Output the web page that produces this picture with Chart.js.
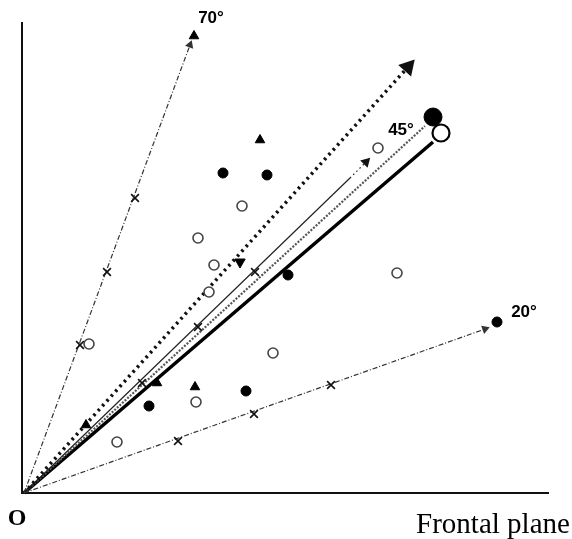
<!DOCTYPE html>
<html>
<head>
<meta charset="utf-8">
<script src="https://cdn.jsdelivr.net/npm/chart.js@4"></script>
<style>
  html, body { margin: 0; padding: 0; background: #fff; }
  #wrap { width: 572px; height: 539px; }
</style>
</head>
<body>
<div id="wrap"><canvas id="chart" width="572" height="539"></canvas></div>
<script>
// Rays from the origin O (origin at lower left)
const rayLabels = ['70°', '20°', 'dotted', 'thin', 'textured', 'thick'];
const rayEndX = [166, 461, 384, 326, 401, 409];
const rayEndY = [448, 164, 426, 315, 367, 351];

// short dotted tail after the thin ray
const tailX = [326, 342];
const tailY = [315, 331];

// axes
const axisX = [-2, -2, 525];
const axisY = [471, 0, 0];

// markers
const filledX = [199, 243, 264, 125, 222, 473];
const filledY = [320, 318, 218, 87, 102, 171];
const openX = [218, 174, 190, 373, 249, 172, 93, 65, 354, 185];
const openY = [287, 255, 228, 220, 140, 91, 51, 149, 345, 201];
const triX = [170, 236, 171, 133, 62];
const triY = [457, 353, 106, 110, 68];
const downTriX = [216];
const downTriY = [231];
const crossX = [56, 83, 111, 154, 230, 307, 118, 174, 231];
const crossY = [148, 221, 295, 52, 79, 108, 110, 166, 221];
const bigFilledX = [409];
const bigFilledY = [376];
const bigOpenX = [417];
const bigOpenY = [360];

// text labels
const labelText = ['70°', '45°', '20°'];
const labelX = [187, 377, 500];
const labelY = [475, 363, 181];

const pts = (xs, ys) => xs.map((x, i) => ({ x: x, y: ys[i] }));

function ray(i, color, width, dash, arrowSize) {
    const ang = Math.atan2(rayEndY[i], rayEndX[i]) * 180 / Math.PI;
    return {
        label: rayLabels[i],
        data: pts([0, rayEndX[i]], [0, rayEndY[i]]),
        showLine: true,
        borderColor: color,
        backgroundColor: color,
        borderWidth: width,
        borderDash: dash,
        pointStyle: 'triangle',
        pointRadius: [0, arrowSize],
        pointRotation: 90 - ang,
        pointBorderWidth: 0,
        order: 5
    };
}

function markers(label, xs, ys, style, radius, fill, border, bw, rot) {
    return {
        label: label,
        data: pts(xs, ys),
        showLine: false,
        pointStyle: style,
        pointRadius: radius,
        pointBackgroundColor: fill,
        pointBorderColor: border,
        pointBorderWidth: bw,
        pointRotation: rot || 0,
        order: 1
    };
}

const tailAng = Math.atan2(tailY[1] - tailY[0], tailX[1] - tailX[0]) * 180 / Math.PI;

const textPlugin = {
    id: 'texts',
    afterDatasetsDraw(chart) {
        const { ctx, scales } = chart;
        ctx.save();
        ctx.fillStyle = '#000';
        ctx.textAlign = 'center';
        ctx.textBaseline = 'middle';
        ctx.font = 'bold 17px "Liberation Sans", Arial, sans-serif';
        labelText.forEach((t, i) => {
            ctx.fillText(t, scales.x.getPixelForValue(labelX[i]), scales.y.getPixelForValue(labelY[i]));
        });
        ctx.font = 'bold 24px "Liberation Serif", "Times New Roman", serif';
        ctx.fillText('O', scales.x.getPixelForValue(-7), scales.y.getPixelForValue(-26));
        ctx.textBaseline = 'alphabetic';
        ctx.font = '29px "Liberation Serif", "Times New Roman", serif';
        ctx.fillText('Frontal plane', scales.x.getPixelForValue(469), scales.y.getPixelForValue(-40));
        ctx.restore();
    }
};

new Chart(document.getElementById('chart'), {
    type: 'scatter',
    data: {
        datasets: [
            {
                label: 'axes',
                data: pts(axisX, axisY),
                showLine: true,
                borderColor: '#111',
                borderWidth: 2,
                pointRadius: 0,
                order: 9
            },
            ray(0, '#333', 1.2, [5, 2, 1, 2], 5),
            ray(1, '#333', 1.2, [5, 2, 1, 2], 5),
            ray(2, '#111', 3.5, [2.5, 4], 10),
            ray(3, '#222', 1.2, [], 0),
            ray(4, '#555', 2.2, [2, 1.5], 0),
            ray(5, '#000', 3.5, [], 0),
            {
                label: 'tail',
                data: pts(tailX, tailY),
                showLine: true,
                borderColor: '#222',
                backgroundColor: '#111',
                borderWidth: 1.2,
                borderDash: [1.5, 3],
                pointStyle: 'triangle',
                pointRadius: [0, 6],
                pointRotation: 90 - tailAng,
                pointBorderWidth: 0,
                order: 5
            },
            markers('filled', filledX, filledY, 'circle', 5, '#000', '#000', 1),
            markers('open', openX, openY, 'circle', 5, '#fff', '#444', 1.6),
            markers('triangle', triX, triY, 'triangle', 5.5, '#000', '#000', 1),
            markers('down', downTriX, downTriY, 'triangle', 6, '#000', '#000', 1, 180),
            markers('cross', crossX, crossY, 'crossRot', 5.5, '#000', '#111', 1.6),
            markers('bigFilled', bigFilledX, bigFilledY, 'circle', 9, '#000', '#000', 1),
            markers('bigOpen', bigOpenX, bigOpenY, 'circle', 8.5, '#fff', '#000', 2.2)
        ]
    },
    options: {
        responsive: false,
        animation: false,
        layout: { padding: 0, autoPadding: false },
        plugins: {
            legend: { display: false },
            tooltip: { enabled: false }
        },
        scales: {
            x: { type: 'linear', min: -24, max: 548, display: false },
            y: { type: 'linear', min: -46, max: 493, display: false }
        }
    },
    plugins: [textPlugin]
});
</script>
</body>
</html>
